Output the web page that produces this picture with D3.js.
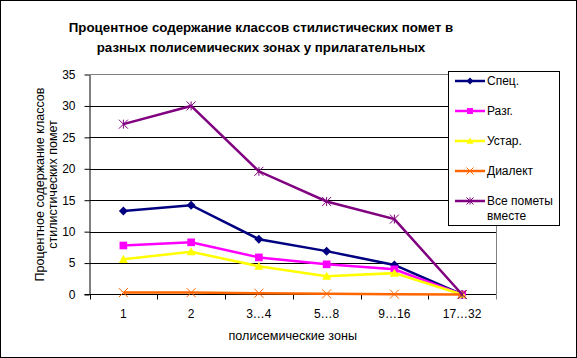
<!DOCTYPE html>
<html>
<head>
<meta charset="utf-8">
<script src="https://cdn.jsdelivr.net/npm/d3@7"></script>
<style>
  body { margin: 0; background: #fff; }
  svg { display: block; font-family: "Liberation Sans", Arial, sans-serif; }
</style>
</head>
<body>
<div id="chart"></div>
<script>
// Chart data
const zones = ['1', '2', '3…4', '5…8', '9…16', '17…32'];
const spec = [13.3, 14.2, 8.8, 6.9, 4.7, 0];
const razg = [7.8, 8.3, 5.9, 4.8, 4.0, 0];
const ustar = [5.6, 6.8, 4.5, 2.9, 3.4, 0];
const dialekt = [0.3, 0.3, 0.2, 0.1, 0.05, 0];
const vse = [27.1, 30.0, 19.6, 14.8, 12.0, 0];
const yTicks = [0, 5, 10, 15, 20, 25, 30, 35];

const series = [
    { name: 'Спец.', values: spec, color: '#000080', marker: 'diamond' },
    { name: 'Разг.', values: razg, color: '#ff00ff', marker: 'square' },
    { name: 'Устар.', values: ustar, color: '#ffff00', marker: 'triangle' },
    { name: 'Диалект', values: dialekt, color: '#ff6600', marker: 'cross' },
    { name: 'Все пометы|вместе', values: vse, color: '#800080', marker: 'star' }
];

const W = 577, H = 358;
const plot = { left: 89.5, right: 496, top: 74.5, bottom: 294.5 };

const svg = d3.select('#chart').append('svg')
    .attr('width', W).attr('height', H);

// outer frame
svg.append('rect').attr('x', 0.5).attr('y', 0.5)
    .attr('width', W - 1).attr('height', H - 1)
    .attr('fill', '#fff').attr('stroke', '#000');

// title
const title = svg.append('text')
    .attr('text-anchor', 'middle')
    .attr('font-size', 13.3).attr('font-weight', 'bold');
title.append('tspan').attr('x', 261).attr('y', 32)
    .text('Процентное содержание классов стилистических помет в');
title.append('tspan').attr('x', 261).attr('y', 52)
    .text('разных полисемических зонах у прилагательных');

// scales
const x = d3.scaleBand().domain(zones).range([plot.left, plot.right]).padding(0);
const y = d3.scaleLinear().domain([0, 35]).range([plot.bottom, plot.top]);
const cx = d => x(d) + x.bandwidth() / 2;

// gridlines
svg.append('g').selectAll('line')
    .data(yTicks.filter(t => t > 0 && t < 35))
    .join('line')
    .attr('x1', plot.left).attr('x2', plot.right)
    .attr('y1', d => Math.round(y(d)) + 0.5).attr('y2', d => Math.round(y(d)) + 0.5)
    .attr('stroke', '#000');

// plot area border (top and right, gray)
svg.append('path')
    .attr('d', `M${plot.left},${plot.top}H${plot.right + 0.5}V${plot.bottom}`)
    .attr('fill', 'none').attr('stroke', '#808080');

// y axis
const yAxis = svg.append('g')
    .attr('transform', `translate(${plot.left},0)`)
    .call(d3.axisLeft(y).tickValues(yTicks).tickSize(5).tickPadding(9).tickSizeOuter(0));
yAxis.select('.domain').attr('stroke', '#000');
yAxis.selectAll('.tick line').attr('stroke', '#000');
yAxis.selectAll('text').attr('font-size', 12).attr('font-family', null).attr('fill', '#000');

// x axis: line, boundary ticks, labels
svg.append('line')
    .attr('x1', plot.left - 5).attr('x2', plot.right)
    .attr('y1', plot.bottom).attr('y2', plot.bottom)
    .attr('stroke', '#000');
const edges = zones.map(z => x(z)).concat([x(zones[zones.length - 1]) + x.bandwidth()]);
svg.append('g').selectAll('line').data(edges).join('line')
    .attr('x1', d => Math.round(d) + 0.5).attr('x2', d => Math.round(d) + 0.5)
    .attr('y1', plot.bottom).attr('y2', plot.bottom + 5)
    .attr('stroke', d => d === edges[edges.length - 1] ? '#808080' : '#000');
svg.append('g').selectAll('text').data(zones).join('text')
    .attr('x', cx).attr('y', 318)
    .attr('text-anchor', 'middle').attr('font-size', 12)
    .text(d => d);

// axis titles
svg.append('text')
    .attr('x', (plot.left + plot.right) / 2).attr('y', 340)
    .attr('text-anchor', 'middle').attr('font-size', 12.6)
    .text('полисемические зоны');
const yTitle = svg.append('text')
    .attr('transform', `translate(0,${(plot.top + plot.bottom) / 2}) rotate(-90)`)
    .attr('text-anchor', 'middle').attr('font-size', 12.5);
yTitle.append('tspan').attr('x', 0).attr('y', 44).text('Процентное содержание классов');
yTitle.append('tspan').attr('x', 0).attr('y', 57).text('стилистических помет');

// marker drawing
function drawMarker(g, type, color, s) {
    if (type === 'diamond') {
        g.append('path').attr('d', `M0,${-s}L${s},0L0,${s}L${-s},0Z`).attr('fill', color);
    } else if (type === 'square') {
        g.append('rect').attr('x', -s * 0.85).attr('y', -s * 0.85)
            .attr('width', s * 1.7).attr('height', s * 1.7).attr('fill', color);
    } else if (type === 'triangle') {
        g.append('path').attr('d', `M0,${-s}L${s},${s * 0.8}L${-s},${s * 0.8}Z`).attr('fill', color);
    } else if (type === 'cross') {
        g.append('path').attr('d', `M${-s},${-s}L${s},${s}M${-s},${s}L${s},${-s}`)
            .attr('stroke', color).attr('stroke-width', 1).attr('fill', 'none');
    } else if (type === 'star') {
        g.append('path').attr('d', `M${-s},${-s}L${s},${s}M${-s},${s}L${s},${-s}M0,${-s}V${s}`)
            .attr('stroke', color).attr('stroke-width', 1).attr('fill', 'none');
    }
}

// series lines and markers
const line = d3.line().x(d => cx(d.zone)).y(d => y(d.v));
series.forEach(s => {
    const pts = zones.map((z, i) => ({ zone: z, v: s.values[i] }));
    svg.append('path').datum(pts)
        .attr('d', line).attr('fill', 'none')
        .attr('stroke', s.color).attr('stroke-width', 2.5);
    pts.forEach(p => {
        const g = svg.append('g').attr('transform', `translate(${cx(p.zone)},${y(p.v)})`);
        drawMarker(g, s.marker, s.color, 4.5);
    });
});

// legend
const legend = svg.append('g');
legend.append('rect').attr('x', 448.5).attr('y', 71.5)
    .attr('width', 111).attr('height', 154)
    .attr('fill', '#fff').attr('stroke', '#000');
series.forEach((s, i) => {
    const ly = 81 + i * 30;
    legend.append('line').attr('x1', 455).attr('x2', 485)
        .attr('y1', ly).attr('y2', ly)
        .attr('stroke', s.color).attr('stroke-width', 2.5);
    const g = legend.append('g').attr('transform', `translate(470,${ly})`);
    drawMarker(g, s.marker, s.color, 3.5);
    const parts = s.name.split('|');
    parts.forEach((p, j) => {
        legend.append('text').attr('x', 487).attr('y', ly + 4 + j * 15)
            .attr('font-size', 12).text(p);
    });
});
</script>
</body>
</html>
